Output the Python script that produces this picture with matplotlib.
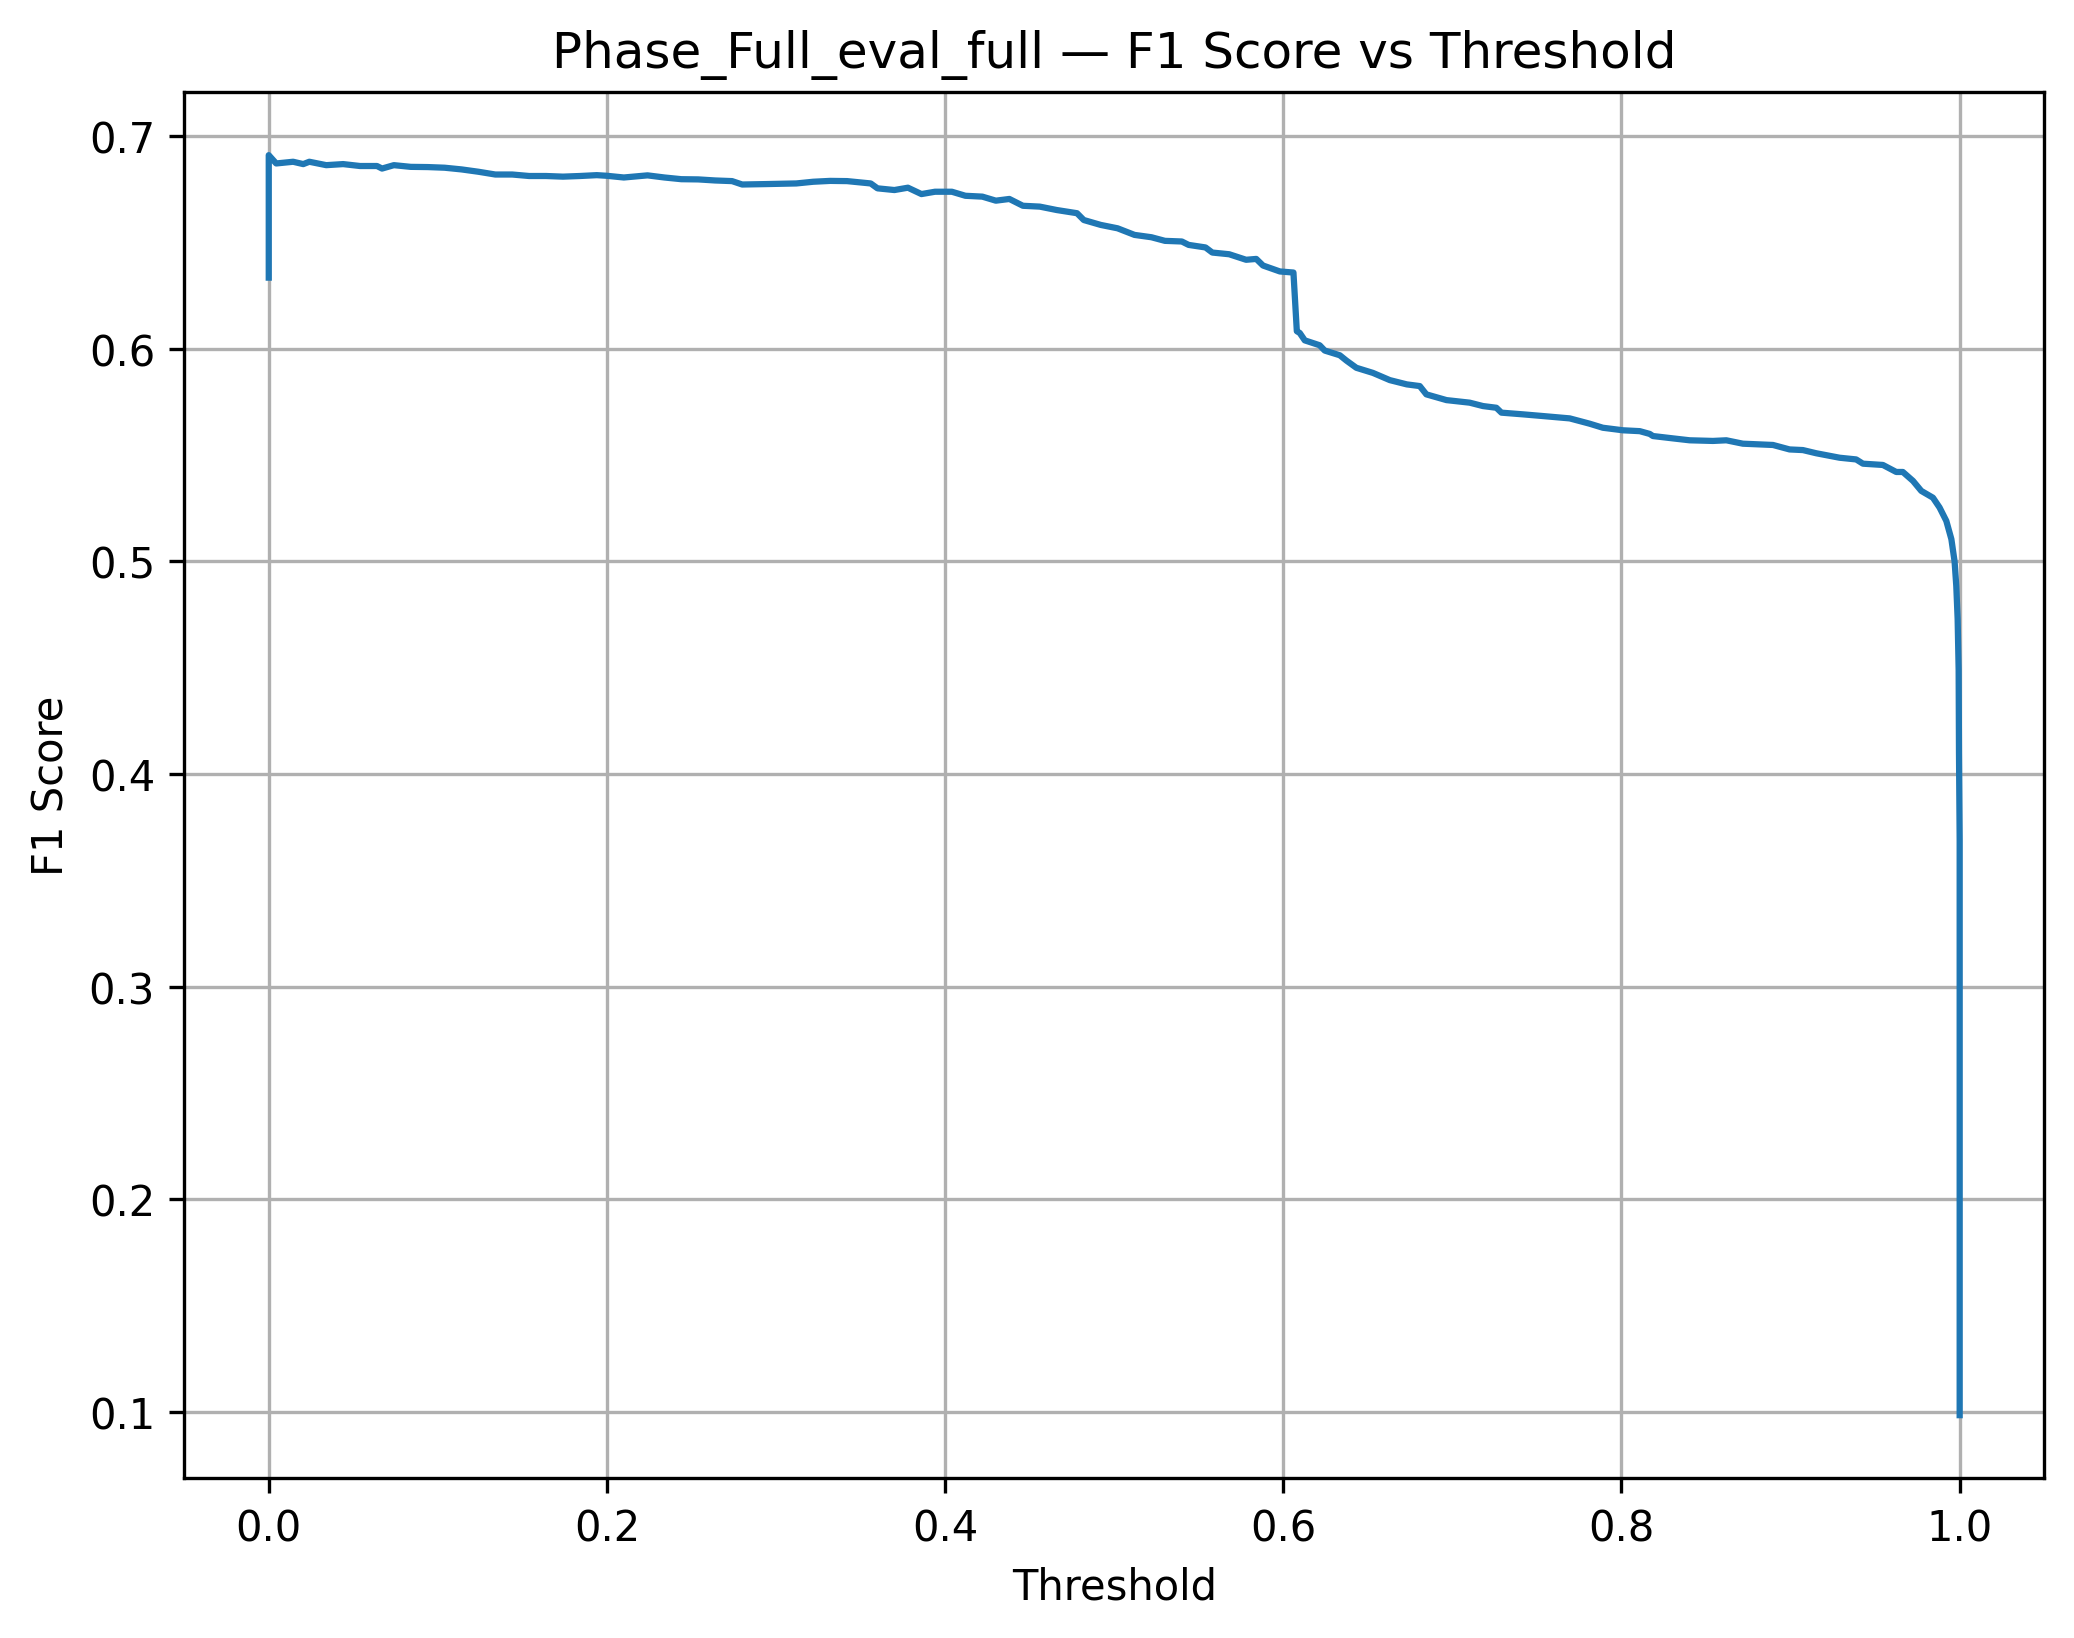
import matplotlib
matplotlib.use("Agg")
import matplotlib.pyplot as plt

# F1 score, by threshold
thresholds = [
    0.0, 0.0, 0.0044, 0.0144, 0.0204, 0.024, 0.034, 0.044, 0.054, 0.064,
    0.067, 0.074, 0.084, 0.094, 0.104, 0.114, 0.124, 0.134, 0.144, 0.154,
    0.164, 0.174, 0.184, 0.194, 0.2, 0.21, 0.224, 0.234, 0.244, 0.254,
    0.264, 0.274, 0.28, 0.294, 0.306, 0.312, 0.322, 0.332, 0.342, 0.356,
    0.36, 0.37, 0.378, 0.386, 0.394, 0.404, 0.412, 0.422, 0.43, 0.438,
    0.446, 0.456, 0.466, 0.478, 0.482, 0.492, 0.502, 0.512, 0.522, 0.53,
    0.54, 0.544, 0.554, 0.558, 0.568, 0.578, 0.584, 0.588, 0.598, 0.606,
    0.608, 0.6097, 0.6127, 0.6215, 0.6245, 0.6334, 0.6373, 0.6432, 0.653, 0.663,
    0.673, 0.6807, 0.6846, 0.6965, 0.7102, 0.7181, 0.726, 0.729, 0.7418, 0.7536,
    0.7694, 0.7812, 0.789, 0.8009, 0.8108, 0.8167, 0.8186, 0.8304, 0.8403, 0.8541,
    0.862, 0.8718, 0.8896, 0.8994, 0.9073, 0.9152, 0.929, 0.9388, 0.9428, 0.9546,
    0.9625, 0.9664, 0.9724, 0.9773, 0.9842, 0.9881, 0.9921, 0.9951, 0.997, 0.998,
    0.9988, 0.9994, 0.9996, 1.0, 1.0,
]
f1_scores = [
    0.6335, 0.6911, 0.6872, 0.6880, 0.6869, 0.6880, 0.6864, 0.6869, 0.6860, 0.6860,
    0.6848, 0.6864, 0.6856, 0.6855, 0.6852, 0.6844, 0.6833, 0.6820, 0.6820, 0.6813,
    0.6813, 0.6810, 0.6813, 0.6817, 0.6814, 0.6806, 0.6816, 0.6806, 0.6798, 0.6797,
    0.6792, 0.6789, 0.6773, 0.6775, 0.6777, 0.6778, 0.6786, 0.6790, 0.6789, 0.6778,
    0.6755, 0.6747, 0.6758, 0.6728, 0.6739, 0.6739, 0.6720, 0.6716, 0.6697, 0.6705,
    0.6673, 0.6669, 0.6653, 0.6638, 0.6606, 0.6583, 0.6567, 0.6536, 0.6525, 0.6508,
    0.6505, 0.6489, 0.6477, 0.6453, 0.6445, 0.6419, 0.6423, 0.6392, 0.6364, 0.6359,
    0.6083, 0.6075, 0.6040, 0.6017, 0.5992, 0.5970, 0.5945, 0.5911, 0.5887, 0.5853,
    0.5833, 0.5825, 0.5786, 0.5759, 0.5747, 0.5731, 0.5723, 0.5700, 0.5692, 0.5684,
    0.5673, 0.5648, 0.5629, 0.5617, 0.5613, 0.5600, 0.5590, 0.5579, 0.5570, 0.5567,
    0.5570, 0.5554, 0.5548, 0.5527, 0.5524, 0.5509, 0.5488, 0.5480, 0.5460, 0.5454,
    0.5421, 0.5421, 0.5379, 0.5332, 0.5300, 0.5254, 0.5191, 0.5105, 0.5000, 0.4885,
    0.4730, 0.4490, 0.4100, 0.3690, 0.0985,
]

plt.figure(figsize=(8, 6))
plt.plot(thresholds, f1_scores)
plt.title('Phase_Full_eval_full — F1 Score vs Threshold')
plt.xlabel('Threshold')
plt.ylabel('F1 Score')
plt.grid(True)
plt.savefig('out.png', dpi=300, bbox_inches='tight')
